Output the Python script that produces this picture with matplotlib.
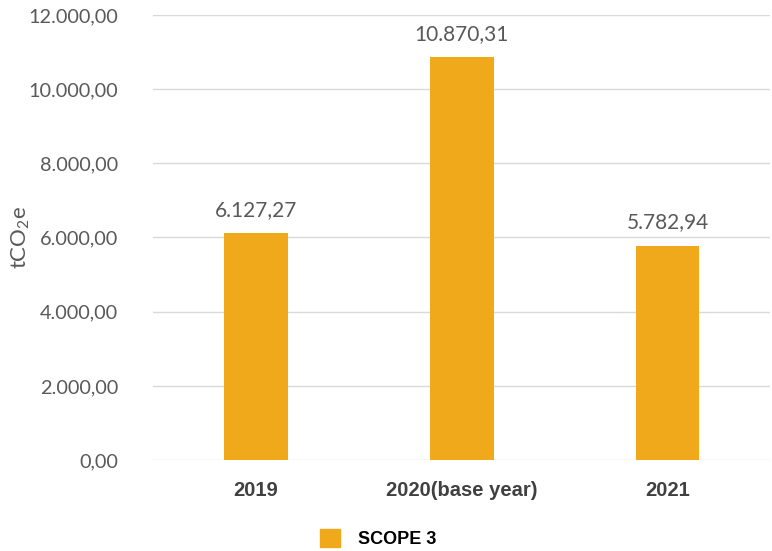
import matplotlib
matplotlib.use("Agg")
from matplotlib import pyplot as plt
from matplotlib.patches import Patch

# 数据
years = ["2019", "2020(base year)", "2021"]
scope3 = [6127.27, 10870.31, 5782.94]
value_labels = ["6.127,27", "10.870,31", "5.782,94"]
yticks = [0, 2000, 4000, 6000, 8000, 10000, 12000]
ytick_labels = ["0,00", "2.000,00", "4.000,00", "6.000,00", "8.000,00", "10.000,00", "12.000,00"]

plt.rcParams["font.family"] = ["Lato", "DejaVu Sans"]
plt.rcParams["mathtext.default"] = "regular"

bar_color = "#EFA91B"
text_color = "#595959"

fig = plt.figure(figsize=(7.72, 5.51), dpi=100)
ax = fig.add_axes([0.198, 0.165, 0.80, 0.808])

x = range(len(years))
bars = ax.bar(x, scope3, width=0.31, color=bar_color, zorder=3)

for b, lab in zip(bars, value_labels):
    ax.text(b.get_x() + b.get_width() / 2, b.get_height() + 350, lab,
            ha="center", va="bottom", fontsize=15, color=text_color)

ax.set_xlim(-0.5, 2.5)
ax.set_ylim(0, 12000)
ax.set_yticks(yticks)
ax.set_yticklabels(ytick_labels, fontsize=14.3, color=text_color)
ax.set_xticks(list(x))
ax.set_xticklabels(years, fontsize=14.5, fontweight="bold", color="#404040",
                   family="Liberation Sans")
ax.tick_params(axis="both", length=0)
ax.tick_params(axis="x", pad=15)
ax.tick_params(axis="y", pad=25)

ax.grid(axis="y", color="#D9D9D9", linewidth=1, zorder=0)
for s in ax.spines.values():
    s.set_visible(False)

ax.set_ylabel("tCO$_2$e", fontsize=16, color=text_color)
ax.yaxis.set_label_coords(-0.195, 0.5)

fig.legend(handles=[Patch(color=bar_color, label="SCOPE 3")],
           loc="center", bbox_to_anchor=(0.49, 0.022), frameon=False,
           prop={"family": "Liberation Sans", "weight": "bold", "size": 13},
           handlelength=1.1, handleheight=1.1, handletextpad=1.0)

plt.savefig("out.png")
